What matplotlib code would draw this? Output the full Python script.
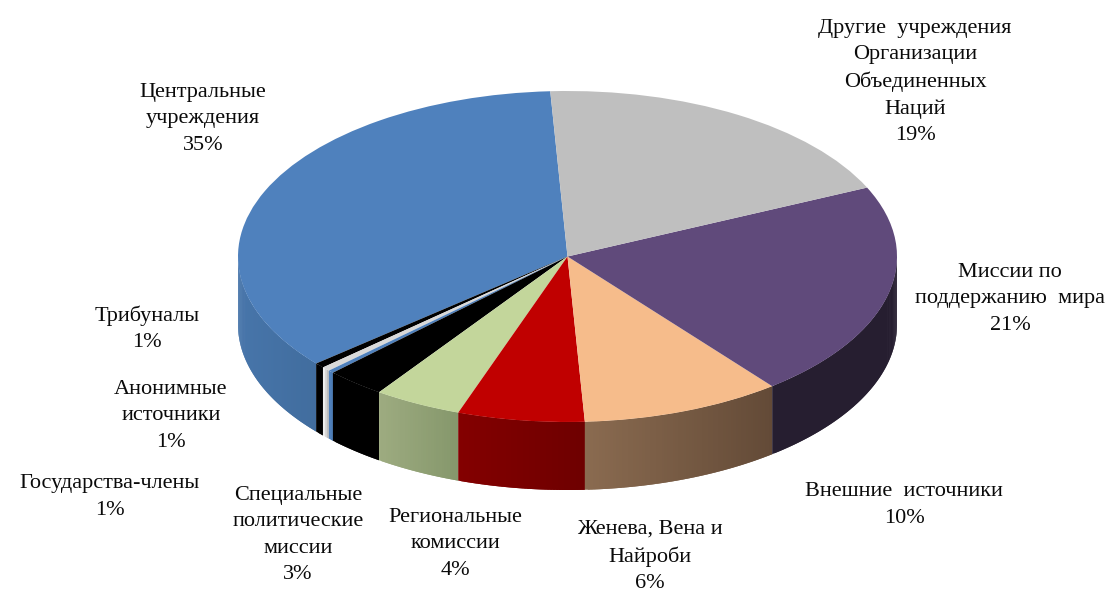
import numpy as np
import matplotlib
matplotlib.use("Agg")
import matplotlib.pyplot as plt
from matplotlib.colors import to_rgb

W, H = 1108, 593

# order: counter-clockwise from the top of the pie
categories = ["Центральные\nучреждения", "Трибуналы", "Анонимные\nисточники", "Государства-члены",
              "Специальные\nполитические\nмиссии", "Региональные\nкомиссии", "Женева, Вена и\nНайроби",
              "Внешние  источники", "Миссии по\nподдержанию  мира",
              "Другие  учреждения\nОрганизации\nОбъединенных\nНаций"]
values = [35.36, 0.50, 0.42, 0.28, 2.92, 4.31, 6.22, 9.83, 21.17, 19.0]
shares = [35, 1, 1, 1, 3, 4, 6, 10, 21, 19]
top_colors = ["#4f81bd", "#000000", "#d9d9d9", "#4f81bd", "#000000", "#c3d69b", "#c00000", "#f6bc8b", "#604a7b", "#bfbfbf"]
side_left = ["#4775aa", "#000000", "#f0f0f0", "#4f81bd", "#000000", "#9dab80", "#830000", "#8a6b50", "#261e30", "#808080"]
side_right = ["#416d9e", "#000000", "#a6a6a6", "#4a78ae", "#000000", "#85976b", "#6e0000", "#634a37", "#261e30", "#808080"]
label_x = [203, 147, 171, 110, 298, 455, 650, 904, 1010, 915]
label_y = [119, 329, 416, 497, 535, 544, 556, 505, 299, 82]

CX, CY, RX, RY, DEPTH, START = 567.5, 256.5, 329.5, 165.5, 68.0, 93.0

fig = plt.figure(figsize=(W / 100, H / 100), dpi=100)
ax = fig.add_axes([0, 0, 1, 1])
ax.pie(values, colors=top_colors, startangle=START, counterclock=True, radius=1.0,
       wedgeprops=dict(linewidth=0), normalize=True)
for w in ax.patches:
    w.set_zorder(5)
ax.set_aspect("auto")
ax.set_xlim(-CX / RX, (W - CX) / RX)
ax.set_ylim(-(H - CY) / RY, CY / RY)
ax.axis("off")

# side wall: overlapping strips painted left to right, so no seams appear
d = DEPTH / RY
edges = START + np.concatenate([[0], np.cumsum(values)]) / np.sum(values) * 360
for i in range(len(values)):
    a0 = max(edges[i], 180.0)
    a1 = min(edges[i + 1], 360.0)
    if a1 <= a0:
        continue
    n = max(2, int((a1 - a0) * 2))
    t = np.radians(np.linspace(a0, a1, n + 1))
    x = np.cos(t)
    y = np.sin(t)
    c0, c1 = np.array(to_rgb(side_left[i])), np.array(to_rgb(side_right[i]))
    for j in range(n):
        f = (x[j] - x[0]) / (x[-1] - x[0])
        k = min(j + 2, n)
        xs = np.r_[x[j:k + 1], x[j:k + 1][::-1]]
        ys = np.r_[y[j:k + 1], y[j:k + 1][::-1] - d]
        ax.fill(xs, ys, color=c0 + (c1 - c0) * f, linewidth=0, zorder=2 + i * 0.01 + j * 1e-5)

for cat, pct, lx, ly in zip(categories, shares, label_x, label_y):
    fig.text(lx / W, 1 - ly / H, f"{cat}\n{pct}%", ha="center", va="center", ma="center",
             family="Liberation Serif", fontsize=16, linespacing=1.51, color="#0a0a0a")

fig.savefig("out.png", dpi=100)
